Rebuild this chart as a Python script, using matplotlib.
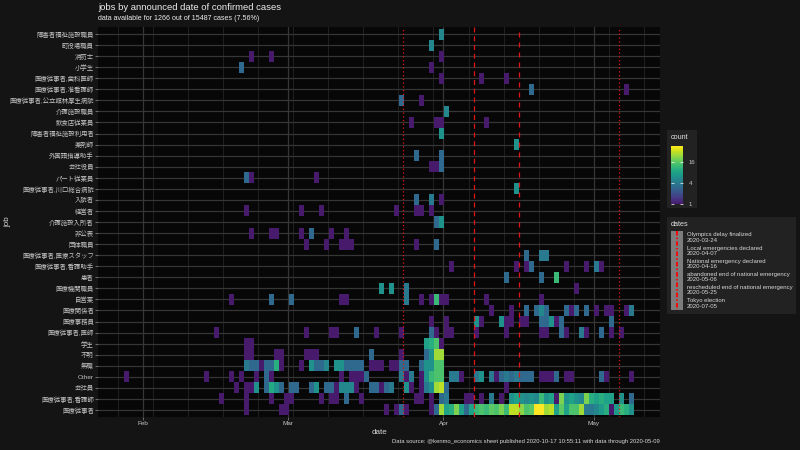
import datetime as dt
import numpy as np
import matplotlib
matplotlib.use("Agg")
import matplotlib.pyplot as plt
import matplotlib.dates as mdates
from matplotlib.colors import LogNorm, ListedColormap
from matplotlib.patches import Rectangle
from matplotlib.lines import Line2D

plt.rcParams['font.family'] = ['Liberation Sans', 'Noto Sans CJK JP', 'DejaVu Sans']

# jobs, top row first
jobs = ["障害者福祉施設職員", "町役場職員", "消防士", "小学生", "医療従事者,歯科医師",
        "医療従事者,准看護師", "医療従事者,公立館林厚生病院", "介護施設職員", "飲食店従業員",
        "障害者福祉施設利用者", "薬剤師", "外国語指導助手", "会社役員", "パート従業員",
        "医療従事者,川口総合病院", "入院者", "経営者", "介護施設入所者", "非公表", "団体職員",
        "医療従事者,医療スタッフ", "医療従事者,看護助手", "患者", "医療機関職員", "自営業",
        "医療関係者", "医療事務員", "医療従事者,医師", "学生", "不明", "無職", "Other",
        "会社員", "医療従事者,看護師", "医療従事者"]

# daily counts per job, "MM-DD:count"
cells = [
    "04-01:5",
    "03-30:5",
    "02-23:1 02-27:1 04-01:1",
    "02-21:3 03-30:1",
    "04-01:1 04-09:1 04-14:1",
    "04-19:3 05-08:1",
    "03-24:3 03-28:1",
    "04-02:5",
    "03-26:1 03-31:1 04-01:1 04-10:1",
    "04-01:6",
    "04-16:6",
    "03-27:3 04-01:3",
    "03-30:1 03-31:1 04-01:3",
    "02-22:3 02-23:1 03-07:1",
    "04-16:6",
    "03-27:3 03-30:4 04-01:1",
    "02-22:1 03-04:1 03-08:1 03-23:1 03-27:1 03-28:1 03-30:1",
    "03-31:3 04-01:6",
    "02-23:1 02-27:1 02-28:1 03-04:1 03-06:3 03-10:1 03-13:1",
    "03-05:1 03-09:1 03-12:1 03-13:1 03-14:1 03-27:1 03-31:3",
    "04-18:3 04-21:4 04-22:4",
    "04-03:1 04-16:1 04-18:1 04-19:3 04-26:1 04-30:1 05-02:4 05-03:1",
    "04-14:3 04-21:3 04-24:12",
    "03-20:6 03-22:6 03-25:4 04-28:1",
    "02-19:1 02-27:3 03-02:3 03-12:1 03-13:1 03-25:4 03-28:1 03-30:1 03-31:12 "
    "04-01:1 04-02:1 04-10:1 04-21:1",
    "04-11:1 04-15:1 04-18:3 04-20:3 04-21:5 04-22:3 04-26:3 04-27:1 04-28:3 04-30:3 "
    "05-02:1 05-04:1 05-05:1 05-08:1 05-09:4",
    "03-30:1 04-02:1 04-08:6 04-09:1 04-13:6 04-14:1 04-15:1 04-17:1 04-18:1 04-21:3 "
    "04-22:3 04-23:6 04-24:1 04-25:3 05-05:3",
    "02-16:1 03-05:1 03-10:1 03-11:1 03-15:3 03-19:1 03-24:1 03-30:3 03-31:1 04-02:1 "
    "04-03:1 04-08:1 04-14:1 04-21:1 04-22:1 04-25:3 04-26:1 04-29:4 04-30:1 05-03:3 "
    "05-05:1 05-07:1",
    "02-22:1 02-23:1 03-29:8 03-30:10 03-31:14 04-01:1",
    "02-22:1 02-23:1 02-28:1 02-29:1 03-05:1 03-06:1 03-07:1 03-18:3 03-24:1 03-29:3 "
    "03-30:6 03-31:25 04-01:25",
    "02-22:4 02-23:3 02-24:3 02-25:1 02-26:3 02-27:3 02-28:10 02-29:1 03-04:1 03-06:6 "
    "03-07:3 03-08:3 03-09:5 03-11:6 03-12:6 03-13:3 03-14:3 03-15:3 03-16:3 03-18:1 "
    "03-19:1 03-20:1 03-22:1 03-23:1 03-24:3 03-25:3 03-28:3 03-29:6 03-30:6 03-31:14 "
    "04-01:14",
    "01-29:1 02-14:1 02-19:1 02-21:1 02-24:1 02-26:3 02-27:1 03-12:1 03-14:1 03-15:1 "
    "03-16:1 03-17:3 03-24:4 03-25:1 03-26:4 03-28:1 03-29:6 03-30:12 03-31:14 04-01:14 "
    "04-03:4 04-04:4 04-05:1 04-08:4 04-09:6 04-11:4 04-12:1 04-13:3 04-14:4 04-15:3 "
    "04-16:4 04-17:3 04-18:3 04-19:3 04-21:1 04-22:1 04-23:1 04-24:3 04-26:1 04-27:1 "
    "05-03:3 05-04:1 05-09:1",
    "02-20:1 02-22:1 02-23:1 02-24:6 02-26:3 02-27:9 02-28:6 02-29:3 03-02:3 03-03:3 "
    "03-06:3 03-07:6 03-09:3 03-10:3 03-11:1 03-12:5 03-13:5 03-14:5 03-15:1 03-18:3 "
    "03-19:3 03-20:1 03-21:3 03-22:4 03-25:6 03-26:1 03-28:1 03-29:4 03-30:6 03-31:25 "
    "04-01:30 04-02:3 04-14:1",
    "02-17:1 02-22:1 02-27:1 03-01:1 03-02:1 03-08:1 03-10:1 03-11:1 03-13:3 03-16:1 "
    "03-27:1 03-28:1 03-30:1 04-01:3 04-02:4 04-06:1 04-07:1 04-09:1 04-11:4 04-13:1 "
    "04-15:6 04-16:8 04-17:6 04-18:5 04-19:6 04-20:5 04-21:12 04-22:6 04-23:8 04-24:1 "
    "04-25:20 04-26:6 04-27:8 04-28:6 04-29:5 04-30:20 05-01:10 05-02:8 05-03:10 "
    "05-04:8 05-05:8 05-07:6 05-09:3",
    "02-22:1 02-29:1 03-01:1 03-21:1 03-23:1 03-24:3 03-25:1 03-30:1 03-31:3 04-01:25 "
    "04-02:8 04-03:10 04-04:20 04-05:8 04-06:3 04-07:8 04-08:12 04-09:14 04-10:12 "
    "04-11:16 04-12:14 04-13:20 04-14:12 04-15:30 04-16:30 04-17:22 04-18:14 04-19:16 "
    "04-20:45 04-21:45 04-22:25 04-23:30 04-24:8 04-25:16 04-26:8 04-27:14 04-28:14 "
    "04-29:25 04-30:4 05-01:4 05-02:5 05-03:7 05-04:10 05-05:1 05-06:7 05-07:12 "
    "05-08:10 05-09:6",
]

event_dates = ["2020-03-24", "2020-04-07", "2020-04-16", "2020-05-06", "2020-05-25", "2020-07-05"]
event_names = ["Olympics delay finalized", "Local emergencies declared",
               "National emergency declared", "abandoned end of national emergency",
               "rescheduled end of national emergency", "Tokyo election"]
event_styles = [(0, (1, 2)), (0, (4, 3)), (0, (4, 4)), (0, (1, 2)), (0, (4, 2, 1, 2)), (0, (6, 2))]

# ---- build the grid
first = dt.date(2020, 1, 29)
last = dt.date(2020, 5, 9)
ndays = (last - first).days + 1
grid = np.full((len(jobs), ndays), np.nan)
for i, row in enumerate(cells):
    for item in row.split():
        md, n = item.split(":")
        m, d = md.split("-")
        k = (dt.date(2020, int(m), int(d)) - first).days
        grid[i, k] = float(n)

# dates are JST midnight shown on a UTC axis
x_edges = mdates.date2num(first) + np.arange(ndays + 1) - 0.875
y_edges = np.arange(len(jobs) + 1) - 0.5

BG = '#141414'
PANEL = '#070707'
TXT = '#c4c4c4'
cmap = ListedColormap(plt.get_cmap('viridis')(np.linspace(0.07, 1, 256)))

fig = plt.figure(figsize=(8, 4.5), dpi=100, facecolor=BG)
ax = fig.add_axes([98 / 800, 1 - 416.6 / 450, 562 / 800, 389.2 / 450])
ax.set_facecolor(PANEL)

mesh = ax.pcolormesh(x_edges, y_edges, np.ma.masked_invalid(grid), cmap=cmap,
                     norm=LogNorm(vmin=1, vmax=45), zorder=2)

for d, ls in zip(event_dates, event_styles):
    ax.axvline(mdates.datestr2num(d), color='#e01515', lw=0.9, linestyle=ls, zorder=3)

span = x_edges[-1] - x_edges[0]
ax.set_xlim(x_edges[0] - 0.05 * span, x_edges[-1] + 0.05 * span)
ax.set_ylim(len(jobs) - 0.4, -0.6)

ax.set_yticks(range(len(jobs)))
ax.set_yticklabels(jobs)
ax.xaxis.set_major_locator(mdates.MonthLocator())
ax.xaxis.set_major_formatter(mdates.DateFormatter('%b'))
ax.xaxis.set_minor_locator(mdates.WeekdayLocator(byweekday=mdates.MO))
ax.set_axisbelow(True)
ax.grid(which='major', color='#363636', lw=0.9)
ax.grid(which='minor', axis='x', color='#242424', lw=0.6)
for s in ax.spines.values():
    s.set_visible(False)
ax.tick_params(which='major', colors='#7a7a7a', length=2, width=0.6,
               labelcolor=TXT, labelsize=4.6, pad=1)
ax.tick_params(which='minor', length=0)

ax.set_xlabel('date', color='#d8d8d8', fontsize=5.8, labelpad=2)
fig.text(8 / 800, 1 - 222 / 450, 'job', color='#d8d8d8', fontsize=5.8,
         rotation=90, ha='center', va='center')

fig.text(98 / 800, 1 - 7.5 / 450, 'jobs by announced date of confirmed cases',
         color='#ececec', fontsize=6.8, va='center')
fig.text(98 / 800, 1 - 19 / 450, 'data available for 1266 out of 15487 cases (7.56%)',
         color='#ececec', fontsize=5.1, va='center')
fig.text(660 / 800, 1 - 441.5 / 450,
         'Data source: @kenmo_economics sheet published 2020-10-17 10:55:11 with data through 2020-05-09',
         color='#d8d8d8', fontsize=4.2, ha='right', va='center')


def px_rect(x0, y0, x1, y1, **kw):
    fig.patches.append(Rectangle((x0 / 800, 1 - y1 / 450), (x1 - x0) / 800, (y1 - y0) / 450,
                                 transform=fig.transFigure, zorder=-1, **kw))


# ---- colour legend
px_rect(667, 130, 697, 208, facecolor='#222222', edgecolor='none')
fig.text(671 / 800, 1 - 137 / 450, 'count', color='#e0e0e0', fontsize=5.2, va='center')
cax = fig.add_axes([671 / 800, 1 - 204 / 450, 12 / 800, 58 / 450])
cb = fig.colorbar(mesh, cax=cax, ticks=[1, 4, 16])
cb.ax.minorticks_off()
cb.ax.set_yticklabels(['1', '4', '16'])
cb.outline.set_visible(False)
cax.tick_params(which='major', direction='in', length=2.2, width=0.5, color='white',
                left=True, right=True, labelleft=False, labelright=True,
                labelsize=4.3, labelcolor=TXT, pad=4)

# ---- dates legend
px_rect(667, 217, 796, 314, facecolor='#222222', edgecolor='none')
fig.text(671 / 800, 1 - 224 / 450, 'dates', color='#e0e0e0', fontsize=5.2, va='center')
px_rect(671, 231, 683, 310, facecolor='#7c7c7c', edgecolor='none')
fig.lines.append(Line2D([677 / 800, 677 / 800], [1 - 231 / 450, 1 - 310 / 450],
                        transform=fig.transFigure, color='#ff0000', lw=1.3,
                        linestyle=(0, (2.5, 1.2, 0.8, 1.2)), zorder=5))
key_h = (310 - 231) / len(event_names)
for j, (name, d) in enumerate(zip(event_names, event_dates)):
    yc = 231 + key_h * (j + 0.5)
    fig.text(687 / 800, 1 - yc / 450, name + '\n' + d, color='#d8d8d8', fontsize=4.3,
             va='center', linespacing=1.05)

fig.savefig('out.png', dpi=100, facecolor=BG)
